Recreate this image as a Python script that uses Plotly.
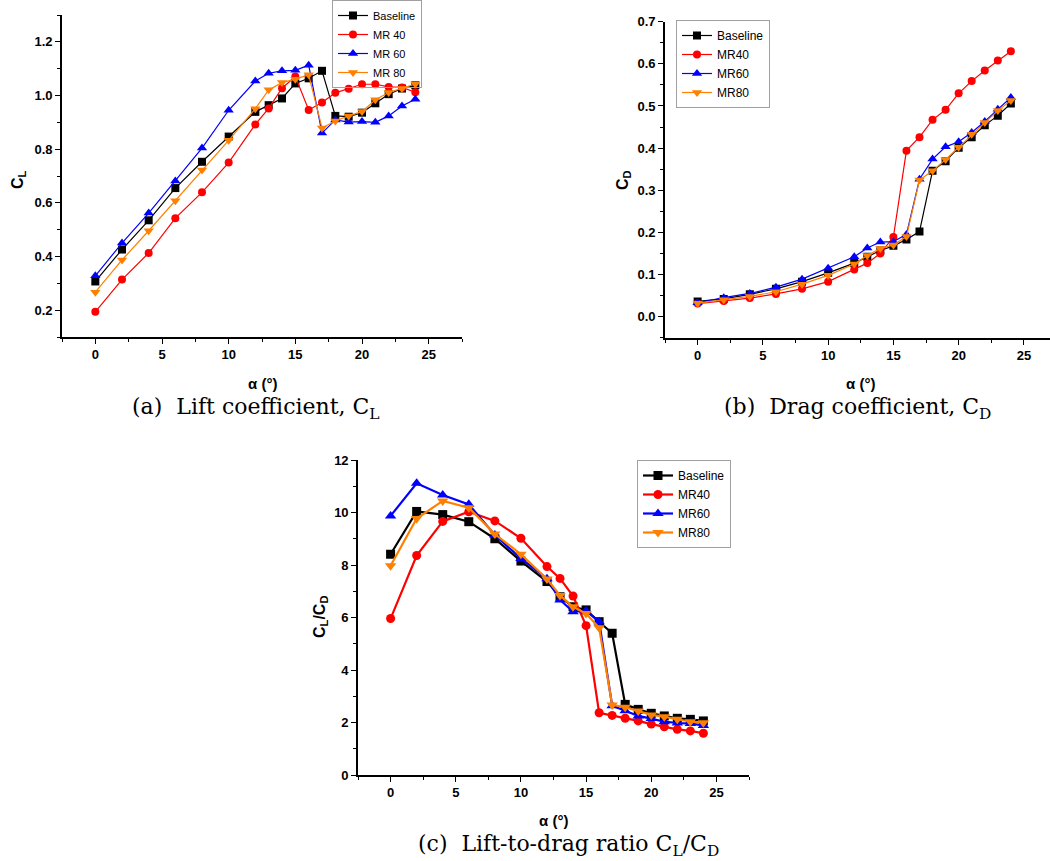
import plotly.graph_objects as go

alpha = [0, 2, 4, 6, 8, 10, 12, 13, 14, 15, 16, 17, 18, 19, 20, 21, 22, 23, 24]
series_names_a = ["Baseline", "MR 40", "MR 60", "MR 80"]
series_names_bc = ["Baseline", "MR40", "MR60", "MR80"]
colors = ["#000000", "#FF0000", "#0000FF", "#FF8000"]
symbols = ["square", "circle", "triangle-up", "triangle-down"]

cl_baseline = [0.307, 0.426, 0.535, 0.655, 0.753, 0.847, 0.939, 0.964, 0.989, 1.045, 1.064, 1.092, 0.924, 0.921, 0.936, 0.971, 1.005, 1.026, 1.038]
cl_mr40 = [0.194, 0.314, 0.413, 0.543, 0.639, 0.750, 0.892, 0.952, 1.027, 1.071, 0.946, 0.974, 1.010, 1.025, 1.042, 1.042, 1.032, 1.030, 1.012]
cl_mr60 = [0.328, 0.450, 0.562, 0.681, 0.804, 0.945, 1.054, 1.083, 1.092, 1.094, 1.113, 0.860, 0.909, 0.901, 0.903, 0.900, 0.924, 0.961, 0.986]
cl_mr80 = [0.267, 0.387, 0.496, 0.608, 0.722, 0.833, 0.951, 1.021, 1.048, 1.061, 1.077, 0.879, 0.905, 0.924, 0.940, 0.984, 1.011, 1.026, 1.043]

cd_baseline = [0.036, 0.042, 0.053, 0.066, 0.083, 0.104, 0.127, 0.142, 0.157, 0.168, 0.183, 0.202, 0.346, 0.369, 0.401, 0.426, 0.454, 0.477, 0.506]
cd_mr40 = [0.031, 0.037, 0.044, 0.054, 0.066, 0.083, 0.112, 0.127, 0.150, 0.189, 0.394, 0.426, 0.467, 0.491, 0.530, 0.559, 0.584, 0.608, 0.630]
cd_mr60 = [0.033, 0.045, 0.055, 0.070, 0.089, 0.115, 0.142, 0.163, 0.177, 0.178, 0.195, 0.326, 0.374, 0.403, 0.415, 0.437, 0.463, 0.492, 0.520]
cd_mr80 = [0.032, 0.040, 0.048, 0.059, 0.077, 0.098, 0.125, 0.145, 0.162, 0.170, 0.190, 0.324, 0.346, 0.373, 0.402, 0.433, 0.461, 0.489, 0.513]

ld_baseline = [8.41, 10.04, 9.92, 9.65, 9.00, 8.15, 7.37, 6.79, 6.41, 6.29, 5.84, 5.40, 2.69, 2.50, 2.35, 2.25, 2.16, 2.12, 2.06]
ld_mr40 = [5.96, 8.36, 9.66, 10.03, 9.68, 9.02, 7.94, 7.49, 6.82, 5.69, 2.37, 2.27, 2.16, 2.06, 1.94, 1.84, 1.74, 1.68, 1.59]
ld_mr60 = [9.87, 11.11, 10.67, 10.31, 9.14, 8.25, 7.48, 6.67, 6.22, 6.25, 5.84, 2.64, 2.45, 2.25, 2.15, 2.03, 1.98, 1.96, 1.89]
ld_mr80 = [7.97, 9.77, 10.44, 10.18, 9.18, 8.41, 7.47, 6.84, 6.41, 6.15, 5.61, 2.67, 2.58, 2.44, 2.29, 2.22, 2.12, 2.03, 1.99]

W, H = 1050, 861
def px(x):
    return x / W
def py(y):
    return 1 - y / H

fig = go.Figure()

panels = [
    ("x", "y", "legend", [cl_baseline, cl_mr40, cl_mr60, cl_mr80], series_names_a, 1.2, 8),
    ("x2", "y2", "legend2", [cd_baseline, cd_mr40, cd_mr60, cd_mr80], series_names_bc, 1.2, 8),
    ("x3", "y3", "legend3", [ld_baseline, ld_mr40, ld_mr60, ld_mr80], series_names_bc, 2.2, 9),
]
for xa, ya, lg, data, names, lw, ms in panels:
    for i in range(4):
        fig.add_trace(go.Scatter(
            x=alpha, y=data[i], name=names[i], mode="lines+markers",
            line=dict(color=colors[i], width=lw),
            marker=dict(symbol=symbols[i], color=colors[i], size=ms + (1 if i >= 2 else 0), line=dict(width=0)),
            xaxis=xa, yaxis=ya, legend=lg, showlegend=True,
        ))

tickfont = dict(family="Arial, Liberation Sans", size=13, color="black", weight="bold")

def xaxis_cfg(domain, anchor, rng):
    return dict(domain=domain, anchor=anchor, range=rng, showline=True, linecolor="black", linewidth=1.6,
                ticks="outside", ticklen=5, tickwidth=1.3, tickcolor="black", dtick=5, tick0=0,
                showgrid=False, zeroline=False, tickfont=tickfont, automargin=False,
                minor=dict(ticks="outside", ticklen=3, dtick=2.5, tick0=0, tickcolor="black", tickwidth=1.3, showgrid=False))

def yaxis_cfg(domain, anchor, rng, dtick, mdtick, fmt):
    return dict(domain=domain, anchor=anchor, range=rng, showline=True, linecolor="black", linewidth=1.6,
                ticks="outside", ticklen=5, tickwidth=1.3, tickcolor="black", dtick=dtick, tick0=0,
                tickformat=fmt, showgrid=False, zeroline=False, tickfont=tickfont, automargin=False,
                minor=dict(ticks="outside", ticklen=3, dtick=mdtick, tick0=0, tickcolor="black", tickwidth=1.3, showgrid=False))

legend_common = dict(bordercolor="#A0A0A0", borderwidth=1, xanchor="left", yanchor="top",
                     tracegroupgap=0, itemwidth=30)

fig.update_layout(
    width=W, height=H, margin=dict(l=0, r=0, t=0, b=0, autoexpand=False),
    paper_bgcolor="white", plot_bgcolor="white",
    xaxis=xaxis_cfg([px(62), px(462)], "y", [-2.5, 27.5]),
    yaxis=yaxis_cfg([py(337), py(15)], "x", [0.1, 1.3], 0.2, 0.1, ".1f"),
    xaxis2=xaxis_cfg([px(665), px(1050)], "y2", [-2.5, 27.0]),
    yaxis2=yaxis_cfg([py(337.7), py(21.7)], "x2", [-0.05, 0.7], 0.1, 0.05, ".1f"),
    xaxis3=xaxis_cfg([px(358), px(749)], "y3", [-2.5, 27.5]),
    yaxis3=yaxis_cfg([py(775), py(460)], "x3", [0, 12], 2, 1, "d"),
    legend=dict(x=px(332), y=py(0), bgcolor="rgba(255,255,255,0)",
                font=dict(family="Arial, Liberation Sans", size=11, color="black"), **legend_common),
    legend2=dict(x=px(676), y=py(20), bgcolor="white",
                 font=dict(family="Arial, Liberation Sans", size=12, color="black"), **legend_common),
    legend3=dict(x=px(637), y=py(460), bgcolor="white",
                 font=dict(family="Arial, Liberation Sans", size=12, color="black"), **legend_common),
)

title_font = dict(family="Arial, Liberation Sans", size=16, color="black", weight="bold")
xt_font = dict(family="Arial, Liberation Sans", size=15, color="black", weight="bold")
cap_font = dict(family="DejaVu Serif, serif", size=22, color="black")

annots = [
    dict(text="C<sub>L</sub>", x=px(18), y=py(180), textangle=-90, font=title_font),
    dict(text="C<sub>D</sub>", x=px(623), y=py(180), textangle=-90, font=title_font),
    dict(text="C<sub>L</sub>/C<sub>D</sub>", x=px(320), y=py(617), textangle=-90, font=title_font),
    dict(text="α (°)", x=px(262), y=py(383), font=xt_font),
    dict(text="α (°)", x=px(860), y=py(383), font=xt_font),
    dict(text="α (°)", x=px(553), y=py(820), font=xt_font),
    dict(text="(a)\u00a0 Lift coefficient, C<sub>L</sub>", x=px(256), y=py(408), font=cap_font),
    dict(text="(b)\u00a0 Drag coefficient, C<sub>D</sub>", x=px(857), y=py(408), font=cap_font),
    dict(text="(c)\u00a0 Lift-to-drag ratio C<sub>L</sub>/C<sub>D</sub>", x=px(568), y=py(845), font=cap_font),
]
for a in annots:
    fig.add_annotation(xref="paper", yref="paper", showarrow=False, xanchor="center", yanchor="middle", **a)

fig.write_html("out.html", config={"displayModeBar": False},
               post_script="document.body.style.margin='0';document.body.style.padding='0';document.body.style.overflow='hidden';")
